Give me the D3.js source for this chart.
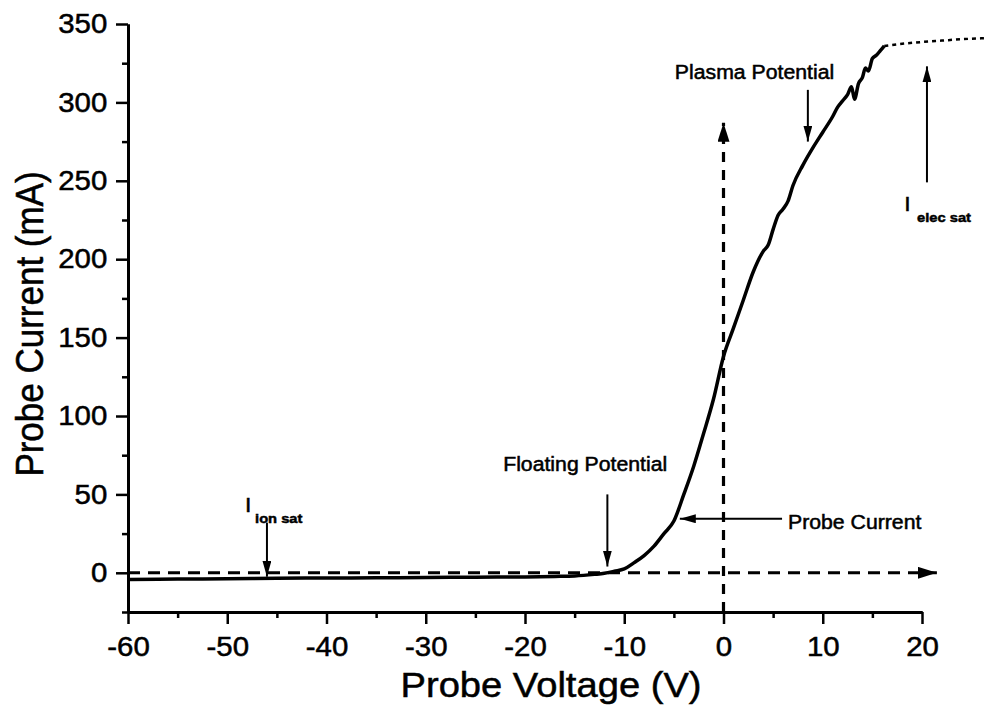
<!DOCTYPE html>
<html>
<head>
<meta charset="utf-8">
<script src="https://cdn.jsdelivr.net/npm/d3@7"></script>
<style>
body { margin: 0; background: #fff; }
text { font-family: "Liberation Sans", Arial, sans-serif; fill: #000; stroke: #000; stroke-width: 0.5px; }
</style>
</head>
<body>
<svg id="chart" width="985" height="718"></svg>
<script>
// probe I-V trace
var voltage = [-60, -55, -50, -45, -40, -35, -30, -25, -20, -17, -15, -13, -12, -11, -10, -9, -8, -7, -6, -5, -4, -3, -2, -1,
    0, 1, 2, 3, 4, 4.5, 5, 5.5, 6, 6.5, 7, 8, 9, 10, 11, 11.5, 12, 12.5, 12.9, 13.2, 13.6, 14, 14.3, 14.6, 15, 15.4, 15.8, 16.2];
var current = [-4.3, -4, -3.8, -3.5, -3.3, -3.2, -3, -2.8, -2.6, -2.3, -2, -1, -0.3, 1, 2.5, 6.5, 11, 17, 25, 33, 50, 68, 89, 111,
    138, 156, 174, 192, 205, 209, 219, 228, 232, 237, 247, 260, 271, 281, 291, 297, 301, 305, 310, 302, 312, 316, 322, 320, 328, 330, 333, 336];

// extrapolated electron saturation (dotted)
var satVoltage = [16.2, 18, 20, 22, 24, 26.6];
var satCurrent = [336, 337.4, 338.5, 339.4, 340.3, 341];

var xMajor = [-60, -50, -40, -30, -20, -10, 0, 10, 20];
var xMinor = [-55, -45, -35, -25, -15, -5, 5, 15];
var yMajor = [0, 50, 100, 150, 200, 250, 300, 350];
var yMinor = [-25, 25, 75, 125, 175, 225, 275, 325];

var xTitle = "Probe Voltage (V)";
var yTitle = "Probe Current (mA)";

// annotation arrows, data coords
var arrowFrom = [[-46, 32], [-11.7, 50], [5.9, 34.5], [8.5, 308], [20.5, 249]];
var arrowTo   = [[-46, -2.5], [-11.7, 4], [-4.4, 34.5], [8.5, 275], [20.5, 323]];

var labelText = ["Floating Potential", "Probe Current", "Plasma Potential"];
var labelPos  = [[-22.2, 65], [6.5, 28], [-4.9, 315]];

var STRETCH = 1.09; // the scan is a bit wider than tall

var svg = d3.select("#chart");

var x = d3.scaleLinear().domain([-60, 20]).range([128, 922]);
var y = d3.scaleLinear().domain([-25, 350]).range([612, 24]);

var defs = svg.append("defs");
function addHead(id, len, wid) {
    defs.append("marker")
        .attr("id", id)
        .attr("viewBox", "0 0 10 10")
        .attr("refX", 10)
        .attr("refY", 5)
        .attr("markerUnits", "userSpaceOnUse")
        .attr("markerWidth", len)
        .attr("markerHeight", wid)
        .attr("preserveAspectRatio", "none")
        .attr("orient", "auto")
        .append("path")
        .attr("d", "M0,0L10,5L0,10z")
        .style("fill", "#000");
}
addHead("head", 16, 9);
addHead("headBig", 19, 12);

function addText(px, py, str, size, anchor, weight) {
    return svg.append("text")
        .attr("transform", "translate(" + px + "," + py + ") scale(" + STRETCH + ",1)")
        .attr("text-anchor", anchor || "start")
        .style("font-size", size + "px")
        .style("font-weight", weight || "normal")
        .text(str);
}

// plain hyphen for negatives, like the original
var fmt = function(d) { return String(d); };

// axes: majors and minors drawn separately so tick lengths differ
function styleAxis(g) {
    g.select(".domain").style("stroke-width", 3);
    g.selectAll(".tick line").style("stroke-width", 2.5);
}

svg.append("g")
    .attr("transform", "translate(0,612)")
    .call(d3.axisBottom(x).tickValues(xMinor).tickSize(6).tickSizeOuter(0).tickFormat(""))
    .call(styleAxis);

var xAxis = svg.append("g")
    .attr("transform", "translate(0,612)")
    .call(d3.axisBottom(x).tickValues(xMajor).tickSize(12).tickSizeOuter(0).tickPadding(13).tickFormat(fmt))
    .call(styleAxis);
xAxis.selectAll(".tick text")
    .style("font-size", "27px")
    .attr("font-family", null)
    .attr("transform", "scale(" + STRETCH + ",1)");

svg.append("g")
    .attr("transform", "translate(128,0)")
    .call(d3.axisLeft(y).tickValues(yMinor).tickSize(6).tickSizeOuter(0).tickFormat(""))
    .call(styleAxis);

var yAxis = svg.append("g")
    .attr("transform", "translate(128,0)")
    .call(d3.axisLeft(y).tickValues(yMajor).tickSize(12).tickSizeOuter(0).tickPadding(7).tickFormat(fmt))
    .call(styleAxis);
yAxis.selectAll(".tick text")
    .style("font-size", "27px")
    .attr("font-family", null)
    .attr("transform", "scale(" + STRETCH + ",1)");

addText(551, 697, xTitle, 35, "middle");
svg.append("text")
    .attr("transform", "translate(43,324) rotate(-90) scale(1," + STRETCH + ")")
    .attr("text-anchor", "middle")
    .style("font-size", "35px")
    .text(yTitle);

// dashed reference axes through the origin
svg.append("line")
    .attr("x1", x(-60)).attr("y1", y(0))
    .attr("x2", x(21.5)).attr("y2", y(0))
    .style("stroke", "#000")
    .style("stroke-width", 3)
    .style("stroke-dasharray", "12,8")
    .attr("marker-end", "url(#headBig)");

svg.append("line")
    .attr("x1", x(0)).attr("y1", y(-25))
    .attr("x2", x(0)).attr("y2", y(287))
    .style("stroke", "#000")
    .style("stroke-width", 3.2)
    .style("stroke-dasharray", "10,8")
    .attr("marker-end", "url(#headBig)");

// the trace
var line = d3.line()
    .curve(d3.curveMonotoneX)
    .x(function(d) { return x(d[0]); })
    .y(function(d) { return y(d[1]); });

svg.append("path")
    .datum(d3.zip(voltage, current))
    .attr("d", line)
    .style("fill", "none")
    .style("stroke", "#000")
    .style("stroke-width", 3.5)
    .style("stroke-linejoin", "round");

svg.append("path")
    .datum(d3.zip(satVoltage, satCurrent))
    .attr("d", line)
    .style("fill", "none")
    .style("stroke", "#000")
    .style("stroke-width", 2.5)
    .style("stroke-dasharray", "4,4");

// annotation arrows
svg.selectAll(".annoArrow")
    .data(d3.zip(arrowFrom, arrowTo))
    .enter()
    .append("line")
    .attr("class", "annoArrow")
    .attr("x1", function(d) { return x(d[0][0]); })
    .attr("y1", function(d) { return y(d[0][1]); })
    .attr("x2", function(d) { return x(d[1][0]); })
    .attr("y2", function(d) { return y(d[1][1]); })
    .style("stroke", "#000")
    .style("stroke-width", 2)
    .attr("marker-end", "url(#head)");

labelText.forEach(function(t, i) {
    addText(x(labelPos[i][0]), y(labelPos[i][1]), t, 19.5, "start");
});

// I with subscripts
addText(x(-48.2), y(39), "I", 21, "start");
addText(x(-47.2), y(32), "ion sat", 13.5, "start", "bold");
addText(x(18.2), y(231), "I", 21, "start");
addText(x(19.5), y(224), "elec sat", 13.5, "start", "bold");
</script>
</body>
</html>
